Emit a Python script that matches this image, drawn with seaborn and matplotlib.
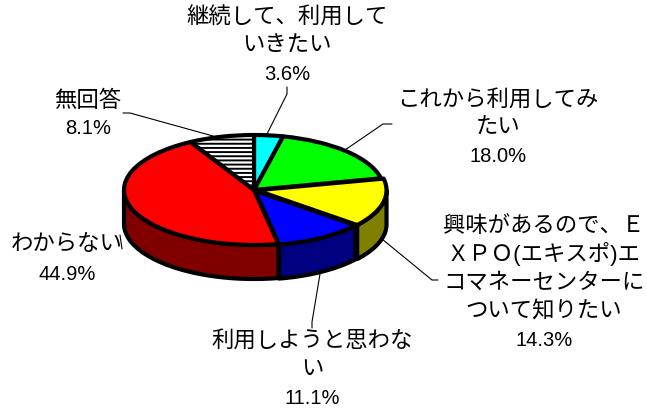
import numpy as np
import matplotlib.pyplot as plt
import matplotlib.transforms as mtransforms
import seaborn as sns

# values, clockwise from 12 o'clock
labels = [["継続して、利用して", "いきたい"],
          ["これから利用してみ", "たい"],
          ["興味があるので、Ｅ", "ＸＰＯ(エキスポ)エ", "コマネーセンターに", "ついて知りたい"],
          ["利用しようと思わな", "い"],
          ["わからない"],
          ["無回答"]]
values = [3.6, 18.0, 14.3, 11.1, 44.9, 8.1]

top_colors = ["#00ffff", "#00ff00", "#ffff00", "#0000ff", "#ff0000", "#ffffff"]
side_colors = ["#008080", "#008000", "#808000", "#000080", "#800000", "#808080"]
hatches = [None, None, None, None, None, "----"]
explode = [0, 0, 0.02, 0.012, 0, 0]

# label layout in pixels (centre x, centre y of first line, line step)
label_pos = [(287, 18, 28), (498, 100, 28), (544, 226, 28.5), (312, 341, 28.5), (67, 244, 30), (88, 101, 28)]
# leader lines in pixels
leaders = [[(287, 87), (287, 94), (267, 134)],
           [(392, 124), (383, 124), (345, 150)],
           [(382, 239), (432, 280), (438, 280)],
           [(320, 274), (312, 322), (312, 328)],
           [(120, 235), (122, 249)],
           [(123, 113), (130, 113), (213, 136)]]

W, H = 647, 412
cx, cy = 254, 190
rx, ry = 130, 55
depth = 34 / ry

sns.set_theme(style="white")
plt.rcParams["hatch.linewidth"] = 1.4
fonts = ["Liberation Sans", "Noto Sans CJK JP"]

fig = plt.figure(figsize=(W / 100, H / 100), dpi=100)
ax = fig.add_axes([0, 0, 1, 1])
px = mtransforms.Affine2D().scale(1, -1).translate(0, H)

# side wall of the front half
edges = np.cumsum([0] + values) / sum(values) * 360
for i in range(len(values)):
    a = max(edges[i], 90)
    b = min(edges[i + 1], 270)
    if a >= b:
        continue
    mid = np.radians((edges[i] + edges[i + 1]) / 2)
    ox, oy = explode[i] * np.sin(mid), explode[i] * np.cos(mid)
    t = np.radians(np.linspace(a, b, 60))
    x = np.sin(t) + ox
    y = np.cos(t) + oy
    ax.fill(np.r_[x, x[::-1]], np.r_[y, y[::-1] - depth], facecolor=side_colors[i],
            edgecolor="black", linewidth=3, joinstyle="round")

ax.pie(values, colors=top_colors, explode=explode, hatch=hatches, startangle=90,
       counterclock=False, radius=1,
       wedgeprops={"edgecolor": "black", "linewidth": 3, "joinstyle": "round"})
ax.set_aspect("auto")
ax.set_xlim(-cx / rx, (W - cx) / rx)
ax.set_ylim(-(H - cy) / ry, cy / ry)
ax.axis("off")

for pts in leaders:
    ax.plot([p[0] for p in pts], [p[1] for p in pts], color="black", linewidth=0.8, transform=px)

for lines, v, (tx, ty, step) in zip(labels, values, label_pos):
    for j, s in enumerate(lines):
        ax.text(tx, ty + j * step, s, transform=px, ha="center", va="center",
                fontsize=16.1, color="black", family=fonts)
    ax.text(tx, ty + len(lines) * step, f"{v:.1f}%", transform=px, ha="center", va="center",
            fontsize=14.5, color="black", family=fonts)

fig.savefig("out.png", dpi=100, facecolor="white")
